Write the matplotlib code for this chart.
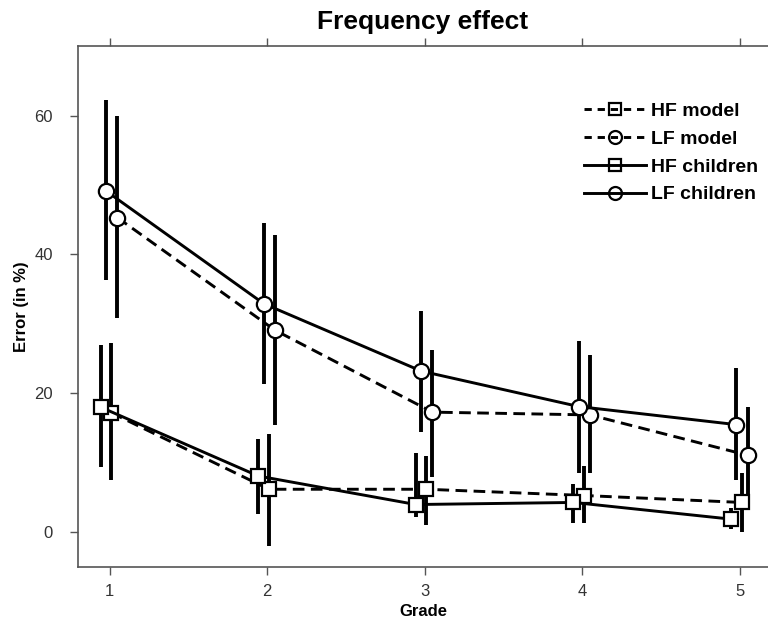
import matplotlib
matplotlib.use("Agg")
import matplotlib.pyplot as plt
from matplotlib.lines import Line2D
import numpy as np

plt.rcParams["font.family"] = ["Liberation Sans", "DejaVu Sans"]

grades = [1, 2, 3, 4, 5]

# values (error in %)
hf_children = [18.0, 8.1, 4.0, 4.3, 1.9]
hf_children_lo = [9.4, 2.7, 2.2, 1.3, 0.5]
hf_children_hi = [26.9, 13.5, 11.4, 7.0, 3.5]

hf_model = [17.2, 6.2, 6.2, 5.3, 4.3]
hf_model_lo = [7.6, -1.9, 1.0, 1.3, 0.0]
hf_model_hi = [27.2, 14.1, 11.0, 9.6, 8.6]

lf_children = [49.1, 32.9, 23.2, 18.1, 15.5]
lf_children_lo = [36.3, 21.4, 14.4, 8.6, 7.5]
lf_children_hi = [62.2, 44.5, 31.9, 27.5, 23.6]

lf_model = [45.3, 29.1, 17.3, 16.9, 11.1]
lf_model_lo = [30.8, 15.4, 7.9, 8.6, 4.0]
lf_model_hi = [60.0, 42.8, 26.3, 25.5, 18.0]

series = [
    # label, values, lo, hi, x offset, marker, dashed
    ("HF model", hf_model, hf_model_lo, hf_model_hi, 0.012, "s", True),
    ("LF model", lf_model, lf_model_lo, lf_model_hi, 0.05, "o", True),
    ("HF children", hf_children, hf_children_lo, hf_children_hi, -0.055, "s", False),
    ("LF children", lf_children, lf_children_lo, lf_children_hi, -0.02, "o", False),
]
DASH = [4.0, 2.2]

fig = plt.figure(figsize=(7.68, 6.35), dpi=100)
ax = fig.add_axes([0.1016, 0.107, 0.8984, 0.8205])

handles = []
for label, vals, lo, hi, off, mk, dashed in series:
    x = np.array(grades) + off
    v = np.array(vals)
    yerr = [v - np.array(lo), np.array(hi) - v]
    ms = 10 if mk == "s" else 11
    cont = ax.errorbar(x, v, yerr=yerr, fmt="-", marker=mk, color="black",
                       mfc="white", mec="black", mew=1.6, ms=ms,
                       lw=2.1, elinewidth=2.8, capsize=0)
    h = Line2D([], [], color="black", lw=2.1, marker=mk, ms=ms * 0.85,
               mfc="none", mec="black", mew=1.6, label=label)
    if dashed:
        cont.lines[0].set_dashes(DASH)
        h.set_dashes([2.5, 2.0])
    handles.append(h)

ax.set_xlim(0.8, 5.18)
ax.set_ylim(-5, 70)
ax.set_xticks(grades)
ax.set_yticks([0, 20, 40, 60])
ax.tick_params(axis="both", direction="out", length=6, width=1, color="#555555",
               labelsize=12, labelcolor="#333333")
ax.tick_params(axis="x", top=True, pad=6)
ax.tick_params(axis="y", pad=12)
ax.spines["right"].set_visible(False)
for s in ["left", "top", "bottom"]:
    ax.spines[s].set_color("#555555")
    ax.spines[s].set_linewidth(1.2)

ax.set_title("Frequency effect", fontsize=19, fontweight="bold", pad=12)
ax.set_xlabel("Grade", fontsize=12, fontweight="bold", labelpad=4)
ax.set_ylabel("Error (in %)", fontsize=12, fontweight="bold", labelpad=4)

leg = ax.legend(handles=handles, loc="upper right", bbox_to_anchor=(1.0, 0.91),
                frameon=False, fontsize=14, handlelength=3.2, handletextpad=0.25,
                labelspacing=0.52, borderaxespad=0.1)
for t in leg.get_texts():
    t.set_fontweight("bold")

fig.savefig("out.png", dpi=100)
plt.close(fig)
